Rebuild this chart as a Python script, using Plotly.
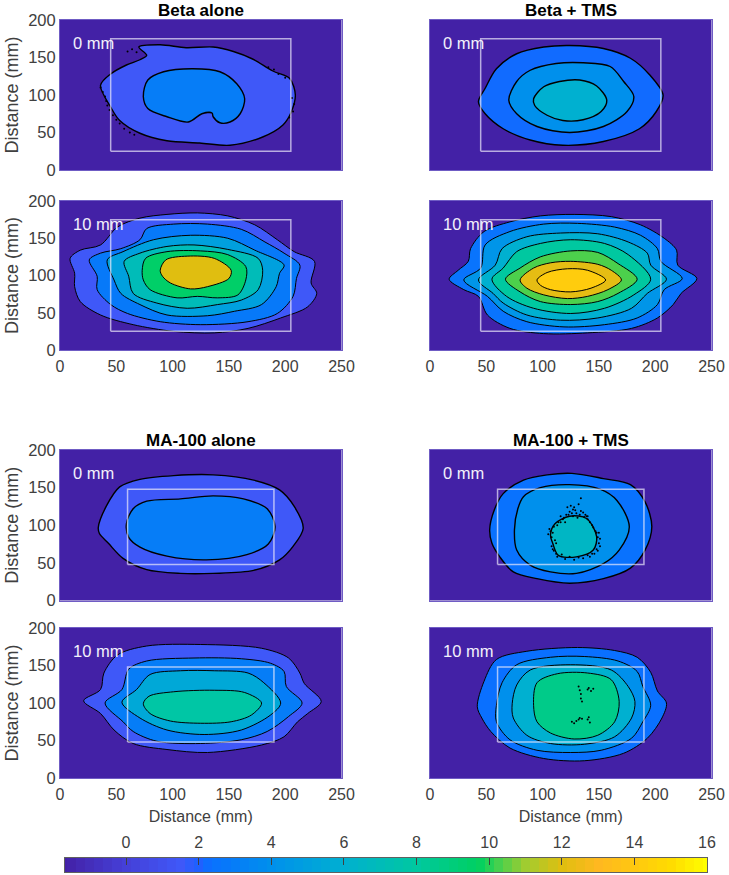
import plotly.graph_objects as go
from plotly.subplots import make_subplots
from plotly.colors import sample_colorscale

# --- DATA (distances in mm, level is the colour value) ---
titles = ['Beta alone', 'Beta + TMS', 'MA-100 alone', 'MA-100 + TMS']
depth_labels = ['0 mm', '0 mm', '10 mm', '10 mm', '0 mm', '0 mm', '10 mm', '10 mm']
tick_x = [0, 50, 100, 150, 200, 250]
tick_y = [0, 50, 100, 150, 200]
bar_ticks = [0, 2, 4, 6, 8, 10, 12, 14, 16]
bar_levels = [-1.5, -1.25, -1, -0.75, -0.5, -0.25, 0, 0.25, 0.5, 0.75, 1, 1.25, 1.5, 1.75, 2, 2.25, 2.5, 2.75,
              3, 3.25, 3.5, 3.75, 4, 4.25, 4.5, 4.75, 5, 5.25, 5.5, 5.75, 6, 6.25, 6.5, 6.75, 7, 7.25, 7.5, 7.75,
              8, 8.25, 8.5, 8.75, 9, 9.25, 9.5, 9.75, 10, 10.25, 10.5, 10.75, 11, 11.25, 11.5, 11.75, 12, 12.25,
              12.5, 12.75, 13, 13.25, 13.5, 13.75, 14, 14.25, 14.5, 14.75, 15, 15.25, 15.5, 15.75, 16]
background_level = -1.68

beta_box_x = [45, 205]
beta_box_y = [25, 175]
ma_box_x = [60, 190]
ma_box_y = [48, 148]

beta_alone_0_levels = [1.5, 3.0]
beta_alone_0_x = [
    [70, 89, 112, 136, 154, 171, 189, 204, 209, 205, 198, 180, 151, 124, 95, 71, 53, 45, 36, 45, 59, 71, 77],
    [74, 78, 92, 118, 142, 157, 164, 160, 151, 142, 136, 135, 126, 114, 95, 78],
]
beta_alone_0_y = [
    [164, 167, 163, 164, 158, 148, 132, 122, 100, 76, 60, 44, 33, 36, 39, 49, 66, 84, 113, 128, 140, 147, 153],
    [98, 120, 131, 135, 131, 115, 95, 75, 64, 63, 71, 76, 75, 64, 71, 82],
]
beta_alone_0_speck_x = [36, 38, 40, 41, 42, 44, 47, 50, 53, 57, 62, 66, 60, 64, 68, 185, 190, 194, 200, 206, 208, 204, 207]
beta_alone_0_speck_y = [110, 104, 98, 92, 86, 80, 73, 67, 62, 55, 50, 47, 158, 161, 157, 137, 134, 128, 123, 96, 88, 70, 78]

beta_tms_0_levels = [2.2, 4.0, 6.0]
beta_tms_0_x = [
    [43, 49, 59, 77, 101, 124, 154, 178, 195, 207, 201, 186, 154, 118, 89, 65, 49],
    [70, 77, 89, 112, 136, 160, 172, 181, 175, 154, 124, 95, 77],
    [92, 101, 115, 133, 148, 157, 152, 136, 118, 104, 93],
]
beta_tms_0_y = [
    [91, 109, 135, 155, 164, 166, 162, 149, 127, 100, 78, 55, 38, 33, 40, 55, 75],
    [93, 118, 133, 142, 143, 138, 118, 98, 78, 58, 50, 58, 75],
    [95, 111, 118, 120, 112, 93, 78, 67, 66, 73, 86],
]

beta_alone_10_levels = [1.5, 2.8, 5.0, 7.0, 9.5, 12.0]
beta_alone_10_x = [
    [9, 18, 36, 51, 71, 95, 122, 149, 173, 193, 208, 226, 223, 228, 220, 196, 167, 137, 101, 65, 36, 18, 13, 13],
    [26, 36, 54, 71, 77, 101, 131, 161, 182, 199, 213, 210, 207, 193, 167, 125, 89, 60, 45, 33, 33],
    [42, 56, 83, 116, 149, 173, 199, 195, 192, 179, 155, 131, 95, 71, 54, 48],
    [57, 71, 95, 119, 149, 176, 180, 176, 161, 140, 113, 86, 65, 61],
    [73, 76, 95, 125, 149, 165, 165, 158, 140, 122, 104, 80, 74],
    [89, 94, 113, 137, 152, 150, 131, 116, 98, 91],
]
beta_alone_10_y = [
    [123, 134, 141, 165, 177, 182, 184, 180, 168, 148, 132, 119, 90, 76, 58, 43, 29, 23, 25, 34, 47, 65, 85, 103],
    [121, 130, 136, 148, 163, 169, 169, 162, 145, 130, 114, 96, 72, 49, 38, 34, 38, 49, 61, 81, 99],
    [121, 132, 148, 154, 150, 134, 114, 103, 85, 61, 52, 46, 47, 61, 76, 94],
    [119, 130, 139, 141, 135, 123, 107, 81, 67, 61, 56, 63, 76, 99],
    [107, 123, 132, 133, 128, 112, 94, 74, 70, 72, 70, 81, 94],
    [107, 121, 126, 123, 107, 96, 85, 82, 90, 99],
]

beta_tms_10_levels = [2.5, 4.3, 6.0, 8.0, 10.3, 12.2, 14.2]
beta_tms_10_x = [
    [17, 25, 34, 36, 48, 71, 98, 128, 161, 187, 208, 219, 220, 237, 223, 216, 202, 179, 140, 101, 71, 51, 43, 30],
    [30, 45, 49, 71, 101, 131, 164, 187, 202, 205, 224, 208, 202, 184, 155, 119, 86, 65, 51],
    [43, 58, 64, 86, 116, 149, 176, 193, 196, 210, 193, 179, 149, 116, 86, 65, 56],
    [55, 65, 77, 98, 125, 155, 176, 196, 181, 155, 125, 92, 68],
    [67, 80, 98, 125, 149, 167, 184, 167, 149, 125, 98, 80],
    [80, 92, 107, 125, 149, 161, 170, 158, 140, 122, 101, 86],
    [95, 104, 122, 140, 156, 143, 125, 107, 98],
]
beta_tms_10_y = [
    [95, 107, 119, 136, 159, 172, 180, 182, 179, 168, 150, 134, 114, 96, 76, 61, 43, 29, 23, 22, 29, 47, 72, 81],
    [94, 110, 141, 159, 169, 170, 165, 154, 136, 119, 96, 81, 61, 43, 34, 31, 38, 52, 72],
    [94, 114, 136, 152, 157, 156, 145, 130, 114, 95, 76, 56, 43, 40, 47, 63, 76],
    [95, 110, 132, 143, 148, 143, 128, 95, 74, 56, 49, 56, 72],
    [95, 110, 125, 133, 131, 116, 95, 76, 65, 61, 65, 78],
    [94, 110, 117, 119, 115, 107, 94, 81, 72, 69, 74, 83],
    [94, 104, 109, 107, 94, 83, 78, 81, 87],
]

ma_alone_0_levels = [1.5, 3.0]
ma_alone_0_x = [
    [34, 41, 53, 71, 101, 136, 172, 195, 208, 216, 207, 195, 172, 136, 107, 77, 56, 43, 35],
    [59, 65, 77, 107, 136, 163, 184, 191, 185, 166, 130, 95, 71, 61],
]
ma_alone_0_y = [
    [97, 125, 151, 161, 166, 167, 160, 147, 125, 96, 72, 54, 40, 36, 36, 41, 56, 76, 89],
    [102, 122, 132, 135, 139, 135, 122, 98, 75, 61, 54, 59, 71, 84],
]

ma_tms_0_levels = [2.4, 4.0, 6.5]
ma_tms_0_x = [
    [53, 57, 65, 83, 104, 126, 154, 178, 191, 197, 191, 178, 154, 124, 95, 74, 62, 55],
    [75, 78, 83, 98, 124, 151, 166, 177, 168, 154, 130, 107, 89, 77],
    [107, 111, 124, 139, 148, 145, 130, 114, 109],
]
ma_tms_0_y = [
    [94, 120, 142, 160, 167, 169, 162, 154, 131, 98, 67, 43, 29, 23, 29, 38, 58, 76],
    [94, 122, 138, 150, 154, 148, 133, 98, 67, 49, 36, 38, 47, 67],
    [87, 102, 112, 109, 85, 67, 58, 60, 76],
]
ma_tms_0_speck_x = [107, 108, 110, 112, 114, 118, 121, 124, 127, 130, 134, 138, 140, 144, 147, 149, 150, 148, 146, 142, 136, 128, 120, 113, 110, 108, 122, 125, 132, 134, 120, 116, 140, 150,
                    105, 106, 109, 111, 113, 116, 119, 123, 126, 129, 133, 136, 139, 142, 145, 148, 151, 151, 149, 144, 140, 132, 124, 117, 112, 109, 127, 131, 137, 128]
ma_tms_0_speck_y = [92, 84, 98, 76, 104, 108, 114, 118, 121, 116, 119, 114, 108, 100, 92, 84, 76, 68, 62, 58, 56, 54, 55, 58, 66, 72, 124, 126, 128, 136, 104, 112, 112, 90,
                    88, 95, 90, 80, 100, 104, 110, 114, 116, 120, 114, 117, 112, 104, 97, 90, 82, 72, 66, 62, 60, 57, 58, 61, 62, 68, 112, 110, 111, 124]

ma_alone_10_levels = [1.5, 3.0, 5.5, 7.8]
ma_alone_10_x = [
    [21, 36, 39, 51, 77, 125, 179, 203, 213, 217, 232, 220, 211, 199, 179, 131, 95, 65, 48, 36],
    [40, 55, 61, 77, 119, 161, 187, 199, 201, 215, 203, 184, 161, 125, 86, 65, 56],
    [55, 68, 80, 107, 137, 167, 181, 196, 187, 161, 128, 95, 71],
    [74, 79, 101, 137, 164, 179, 170, 152, 125, 98, 80],
]
ma_alone_10_y = [
    [103, 118, 140, 164, 176, 178, 173, 160, 140, 126, 102, 86, 75, 55, 44, 34, 38, 46, 64, 86],
    [100, 118, 145, 156, 160, 159, 153, 142, 122, 100, 82, 62, 51, 46, 49, 62, 75],
    [101, 118, 138, 143, 143, 140, 127, 100, 84, 64, 58, 64, 80],
    [99, 109, 115, 117, 114, 100, 84, 75, 73, 76, 86],
]

ma_tms_10_levels = [2.3, 4.0, 6.0, 8.6]
ma_tms_10_x = [
    [42, 48, 59, 86, 131, 164, 184, 196, 202, 210, 206, 193, 172, 137, 101, 71, 54, 46],
    [59, 64, 77, 107, 137, 167, 184, 189, 196, 189, 179, 152, 125, 95, 71, 59],
    [73, 77, 89, 125, 161, 176, 182, 179, 164, 137, 107, 86, 74],
    [92, 95, 113, 140, 161, 168, 164, 149, 128, 107, 95],
]
ma_tms_10_y = [
    [95, 129, 158, 169, 174, 170, 161, 141, 116, 100, 80, 53, 33, 23, 26, 40, 62, 80],
    [97, 127, 151, 161, 162, 156, 142, 122, 97, 75, 53, 37, 34, 37, 51, 75],
    [99, 124, 144, 151, 144, 122, 102, 80, 55, 45, 46, 57, 80],
    [97, 127, 139, 140, 131, 102, 75, 57, 52, 60, 75],
]
ma_tms_10_speck_x = [132, 133, 134, 140, 141, 143, 145, 134, 135, 126, 128, 130, 132, 133, 135, 140, 142, 141]
ma_tms_10_speck_y = [122, 117, 112, 118, 120, 116, 119, 106, 102, 75, 73, 76, 78, 80, 79, 78, 74, 81]

# --- COLOURS ---
bar_min = -1.68
bar_max = 16
scale_values = [-1.68, 0, 1.5, 2, 2.3, 4, 6, 8, 9.7, 10.2, 11, 12, 13, 14, 15, 16]
scale_colors = ['#4321a6', '#4540d8', '#3f58f8', '#2060ff', '#0a70ff', '#0090ec', '#00b0d0', '#00c8a0',
                '#00d060', '#40d050', '#a0cc30', '#e0be10', '#ffb820', '#ffc810', '#ffdc00', '#ffff00']
colorscale = [[(v - bar_min) / (bar_max - bar_min), c] for v, c in zip(scale_values, scale_colors)]


def level_color(value):
    return sample_colorscale(colorscale, [(value - bar_min) / (bar_max - bar_min)])[0]


W, H = 729, 875
col_px = [(60, 341.5), (430, 711.5)]
row_px = [(20, 170), (201, 350), (450, 600.5), (628, 778)]
bar_px = (65, 707, 858, 872)

panels = [
    (1, 1, beta_alone_0_levels, beta_alone_0_x, beta_alone_0_y, beta_box_x, beta_box_y),
    (1, 2, beta_tms_0_levels, beta_tms_0_x, beta_tms_0_y, beta_box_x, beta_box_y),
    (2, 1, beta_alone_10_levels, beta_alone_10_x, beta_alone_10_y, beta_box_x, beta_box_y),
    (2, 2, beta_tms_10_levels, beta_tms_10_x, beta_tms_10_y, beta_box_x, beta_box_y),
    (3, 1, ma_alone_0_levels, ma_alone_0_x, ma_alone_0_y, ma_box_x, ma_box_y),
    (3, 2, ma_tms_0_levels, ma_tms_0_x, ma_tms_0_y, ma_box_x, ma_box_y),
    (4, 1, ma_alone_10_levels, ma_alone_10_x, ma_alone_10_y, ma_box_x, ma_box_y),
    (4, 2, ma_tms_10_levels, ma_tms_10_x, ma_tms_10_y, ma_box_x, ma_box_y),
]
specks = {
    (1, 1): (beta_alone_0_speck_x, beta_alone_0_speck_y),
    (3, 2): (ma_tms_0_speck_x, ma_tms_0_speck_y),
    (4, 2): (ma_tms_10_speck_x, ma_tms_10_speck_y),
}

fig = make_subplots(rows=4, cols=2)
FONT = 'Liberation Sans'
TEXT = '#404040'

for i, (row, col, levels, xs, ys, box_x, box_y) in enumerate(panels):
    # the 0 mm maps have noisier, heavier looking contours
    line_width = 1.4 if row in (1, 3) else 1.0
    # nested contours, outermost first
    for level, x, y in zip(levels, xs, ys):
        fig.add_trace(go.Scatter(
            x=x + x[:1], y=y + y[:1], mode='lines', fill='toself',
            fillcolor=level_color(level),
            line=dict(color='black', width=line_width, shape='spline', smoothing=0.9),
            showlegend=False, hoverinfo='skip',
        ), row=row, col=col)
    if (row, col) in specks:
        fig.add_trace(go.Scatter(x=specks[(row, col)][0], y=specks[(row, col)][1], mode='markers',
                                 marker=dict(color='black', size=2), showlegend=False, hoverinfo='skip'),
                      row=row, col=col)
    # treatment field outline
    fig.add_trace(go.Scatter(
        x=[box_x[0], box_x[1], box_x[1], box_x[0], box_x[0]],
        y=[box_y[0], box_y[0], box_y[1], box_y[1], box_y[0]],
        mode='lines', line=dict(color='rgba(235,232,250,0.7)', width=1.5),
        showlegend=False, hoverinfo='skip',
    ), row=row, col=col)
    fig.update_xaxes(
        domain=[col_px[col - 1][0] / W, col_px[col - 1][1] / W], range=[0, 250],
        tickvals=tick_x, showticklabels=row in (2, 4), showgrid=False, zeroline=False, ticks='',
        showline=True, mirror=True, linecolor='#6f5cc4', linewidth=1,
        tickfont=dict(size=16), ticklabelstandoff=2,
        title=dict(text='Distance (mm)', standoff=8, font=dict(size=16)) if row == 4 else None,
        row=row, col=col,
    )
    fig.update_yaxes(
        domain=[1 - row_px[row - 1][1] / H, 1 - row_px[row - 1][0] / H], range=[0, 200],
        tickvals=tick_y, showticklabels=col == 1, showgrid=False, zeroline=False, ticks='',
        showline=True, mirror=True, linecolor='#6f5cc4', linewidth=1,
        tickfont=dict(size=16.5),
        title=dict(text='Distance (mm)', standoff=4, font=dict(size=18)) if col == 1 else None,
        row=row, col=col,
    )
    axis_id = '' if i == 0 else str(i + 1)
    fig.add_annotation(xref=f'x{axis_id}', yref=f'y{axis_id}', x=10, y=169, text=depth_labels[i],
                       showarrow=False, xanchor='left', yanchor='middle',
                       font=dict(family=FONT, size=16.5, color='#f2f0fb'))

# panel titles
for text, col, row in [(titles[0], 1, 1), (titles[1], 2, 1), (titles[2], 1, 3), (titles[3], 2, 3)]:
    mid = sum(col_px[col - 1]) / 2 / W
    fig.add_annotation(xref='paper', yref='paper', x=mid, y=1 - row_px[row - 1][0] / H, text=f'<b>{text}</b>',
                       showarrow=False, xanchor='center', yanchor='bottom', yshift=-2,
                       font=dict(family=FONT, size=17, color='black'))

# colour bar on its own axes, labels on top
fig.add_trace(go.Heatmap(
    x=bar_levels, y=[0], z=[bar_levels], xaxis='x9', yaxis='y9',
    zmin=bar_min, zmax=bar_max, colorscale=colorscale, showscale=False, hoverinfo='skip',
))

fig.update_layout(
    width=W, height=H, margin=dict(l=0, r=0, t=0, b=0, autoexpand=False), paper_bgcolor='white',
    plot_bgcolor=level_color(background_level),
    font=dict(family=FONT, size=16.5, color=TEXT), showlegend=False,
    xaxis9=dict(domain=[bar_px[0] / W, bar_px[1] / W], range=[bar_min, bar_max], anchor='y9', side='top',
                tickvals=bar_ticks, ticks='inside', ticklen=7, tickcolor='#404040', showgrid=False, zeroline=False,
                showline=True, mirror=True, linecolor='#606060', tickfont=dict(size=16), ticklabelstandoff=3),
    yaxis9=dict(domain=[1 - bar_px[3] / H, 1 - bar_px[2] / H], anchor='x9', range=[-0.5, 0.5], showticklabels=False,
                ticks='', showgrid=False, zeroline=False, showline=True, mirror=True, linecolor='#606060'),
)

fig.write_html("out.html", post_script="document.body.style.margin='0';", config={'displayModeBar': False})
